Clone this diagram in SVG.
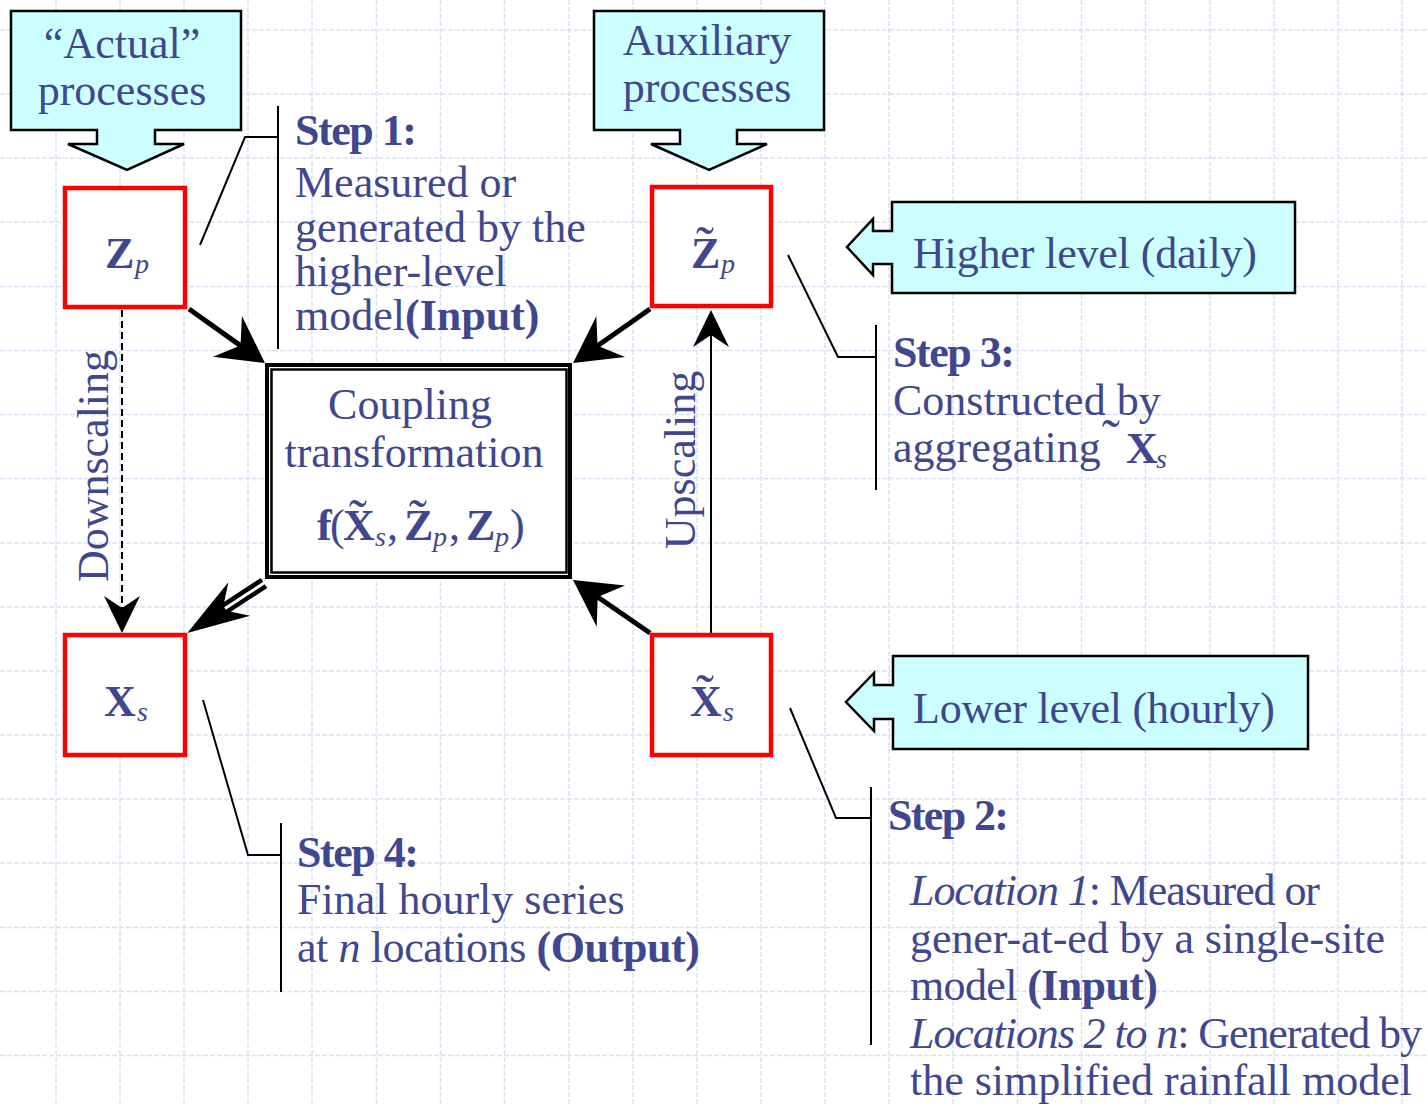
<svg xmlns="http://www.w3.org/2000/svg" width="1428" height="1106" viewBox="0 0 1428 1106">
<style>
  text { font-family: "Liberation Serif", "DejaVu Serif", serif; fill: #3f478e; font-size: 44px; }
  .b { font-weight: bold; }
  .i { font-style: italic; }
  .c { text-anchor: middle; }
  .sub { font-size: 28px; font-style: italic; }
  .tl { font-size: 54px; text-anchor: middle; }
  .callout { fill: #ccffff; stroke: #000; stroke-width: 2.5; stroke-linejoin: miter; }
  .node { fill: #fff; stroke: #ff0000; stroke-width: 4.5; }
  .grid { stroke: #d9e1f7; stroke-width: 1.5; stroke-dasharray: 5 2; fill: none; }
  .lead { stroke: #000; stroke-width: 2; fill: none; }
  .thick { stroke: #000; stroke-width: 5; fill: none; }
</style>
<defs>
  <marker id="big" markerUnits="userSpaceOnUse" viewBox="-50 -30 55 60" markerWidth="55" markerHeight="60" refX="-30" refY="0" orient="auto">
    <path d="M0,0 L-46,-25 L-30,0 L-46,25 Z" fill="#000"/>
  </marker>
  <marker id="small" markerUnits="userSpaceOnUse" viewBox="-40 -22 45 44" markerWidth="45" markerHeight="44" refX="-25" refY="0" orient="auto">
    <path d="M0,0 L-37,-18 L-25,0 L-37,18 Z" fill="#000"/>
  </marker>
  <marker id="dbl" markerUnits="userSpaceOnUse" viewBox="-66 -24 70 48" markerWidth="70" markerHeight="48" refX="-42" refY="0" orient="auto">
    <path d="M0,0 L-62,-20 L-42,0 L-62,20 Z" fill="#000"/>
  </marker>
</defs>
<rect x="0" y="0" width="1428" height="1106" fill="#fff"/>
<path class="grid" d="M56,0V1106 M120,0V1106 M184,0V1106 M248,0V1106 M312,0V1106 M376.5,0V1106 M440.5,0V1106 M504.5,0V1106 M569,0V1106 M633,0V1106 M697,0V1106 M761,0V1106 M825,0V1106 M889,0V1106 M953,0V1106 M1017.5,0V1106 M1081.5,0V1106 M1145.5,0V1106 M1210,0V1106 M1274,0V1106 M1338,0V1106 M1402,0V1106 M0,30H1428 M0,94H1428 M0,158H1428 M0,222H1428 M0,286.5H1428 M0,350.5H1428 M0,414.5H1428 M0,478.5H1428 M0,543H1428 M0,607H1428 M0,671H1428 M0,735H1428 M0,799H1428 M0,863H1428 M0,927.5H1428 M0,991.5H1428 M0,1055.5H1428"/>

<g id="connectors">
  <line class="thick" x1="189" y1="309" x2="240.5" y2="345.6" marker-end="url(#big)"/>
  <line class="thick" x1="650" y1="309" x2="597.6" y2="345.8" marker-end="url(#big)"/>
  <line class="thick" x1="650" y1="633" x2="597.7" y2="597" marker-end="url(#big)"/>
  <line x1="264" y1="583" x2="222.5" y2="610" stroke="#000" stroke-width="12" marker-end="url(#dbl)"/>
  <line x1="266" y1="581.7" x2="225" y2="608.4" stroke="#fff" stroke-width="3"/>
  <line x1="122" y1="310" x2="122" y2="608" stroke="#000" stroke-width="2" stroke-dasharray="7 4" marker-end="url(#small)"/>
  <line x1="711" y1="633" x2="711" y2="335" stroke="#000" stroke-width="2" marker-end="url(#small)"/>
  <polyline class="lead" points="200,245 245,137 278,137"/>
  <line class="lead" x1="278" y1="106" x2="278" y2="349"/>
  <polyline class="lead" points="788,255 838,357 876,357"/>
  <line class="lead" x1="876" y1="325" x2="876" y2="490"/>
  <polyline class="lead" points="203,700 248,855 281,855"/>
  <line class="lead" x1="281" y1="823" x2="281" y2="992"/>
  <polyline class="lead" points="790,708 836,818 871,818"/>
  <line class="lead" x1="871" y1="787" x2="871" y2="1045"/>
</g>

<g id="actual-processes">
  <path class="callout" d="M11,11 H241 V130 H155 V144 H184 L127,170 L68,144 H97 V130 H11 Z"/>
  <text class="c" x="122" y="58">“Actual”</text>
  <text class="c" x="122" y="105">processes</text>
</g>
<g id="auxiliary-processes">
  <path class="callout" d="M594,11 H824 V130 H737 V144 H767 L709,170 L651,144 H680 V130 H594 Z"/>
  <text class="c" x="707" y="55">Auxiliary</text>
  <text class="c" x="707" y="102">processes</text>
</g>
<g id="higher-level">
  <path class="callout" d="M892,202 H1295 V293 H892 V264 H873 V275 L847,247 L873,219 V231 H892 Z"/>
  <text x="913" y="268" textLength="344">Higher level (daily)</text>
</g>
<g id="lower-level">
  <path class="callout" d="M893,656 H1308 V749 H893 V719 H874 V731 L846,702 L874,673 V685 H893 Z"/>
  <text x="913" y="723" textLength="362">Lower level (hourly)</text>
</g>

<g id="node-Zp">
  <rect class="node" x="65" y="188" width="120" height="119"/>
  <text class="b" x="105" y="268" font-size="42">Z</text>
  <text class="sub" x="135" y="273">p</text>
</g>
<g id="node-Zp-tilde">
  <rect class="node" x="652" y="187" width="119" height="119"/>
  <text class="b" x="691" y="268" font-size="42">Z</text>
  <text class="tl" x="705" y="264">˜</text>
  <text class="sub" x="721" y="273">p</text>
</g>
<g id="node-Xs">
  <rect class="node" x="65" y="635" width="120" height="120"/>
  <text class="b" x="104" y="716" font-size="42">X</text>
  <text class="sub" x="137" y="721">s</text>
</g>
<g id="node-Xs-tilde">
  <rect class="node" x="652" y="635" width="119" height="120"/>
  <text class="b" x="690" y="716" font-size="42">X</text>
  <text class="tl" x="705" y="712">˜</text>
  <text class="sub" x="723" y="721">s</text>
</g>

<g id="coupling">
  <rect x="267" y="365" width="303" height="212" fill="#fff" stroke="#000" stroke-width="4"/>
  <rect x="271.5" y="369.5" width="295" height="203" fill="none" stroke="#000" stroke-width="2.5"/>
  <text class="c" x="410" y="419">Coupling</text>
  <text class="c" x="414" y="467">transformation</text>
  <text class="b" x="317" y="540" font-size="42">f</text>
  <text x="330" y="540" font-size="42">(</text>
  <text class="b" x="343" y="540" font-size="42">X</text>
  <text class="tl" x="358" y="537">˜</text>
  <text class="sub" x="375" y="546">s</text>
  <text x="387" y="540" font-size="42">,</text>
  <text class="b" x="404" y="540" font-size="42">Z</text>
  <text class="tl" x="418" y="537">˜</text>
  <text class="sub" x="433" y="546">p</text>
  <text x="449" y="540" font-size="42">,</text>
  <text class="b" x="466" y="540" font-size="42">Z</text>
  <text class="sub" x="495" y="546">p</text>
  <text x="510" y="540" font-size="42">)</text>
</g>

<g id="downscaling-label">
  <text class="c" transform="translate(108,466) rotate(-90)">Downscaling</text>
</g>
<g id="upscaling-label">
  <text class="c" transform="translate(695,460) rotate(-90)">Upscaling</text>
</g>

<g id="step1">
  <text class="b" x="295" y="145" textLength="122">Step 1:</text>
  <text x="295" y="197">Measured or</text>
  <text x="295" y="242">generated by the</text>
  <text x="295" y="286">higher-level</text>
  <text x="295" y="330">model<tspan class="b">(Input)</tspan></text>
</g>
<g id="step3">
  <text class="b" x="893" y="367" textLength="122">Step 3:</text>
  <text x="893" y="415">Constructed by</text>
  <text x="893" y="462">aggregating</text>
  <text class="tl" x="1111" y="457">˜</text>
  <text class="b" x="1126" y="463" font-size="42">X</text>
  <text class="sub" x="1156" y="468">s</text>
</g>
<g id="step4">
  <text class="b" x="297" y="867" textLength="122">Step 4:</text>
  <text x="297" y="914">Final hourly series</text>
  <text x="297" y="962" textLength="403">at <tspan class="i">n</tspan> locations  <tspan class="b">(Output)</tspan></text>
</g>
<g id="step2">
  <text class="b" x="888" y="830" textLength="121">Step 2:</text>
  <text x="910" y="905" textLength="410"><tspan class="i">Location 1</tspan>: Measured or</text>
  <text x="910" y="953" textLength="475">gener-at-ed by a single-site</text>
  <text x="910" y="1000" textLength="248">model <tspan class="b">(Input)</tspan></text>
  <text x="910" y="1048" textLength="512"><tspan class="i">Locations 2 to n</tspan>: Generated by</text>
  <text x="910" y="1095" textLength="502">the simplified rainfall model</text>
</g>
</svg>
